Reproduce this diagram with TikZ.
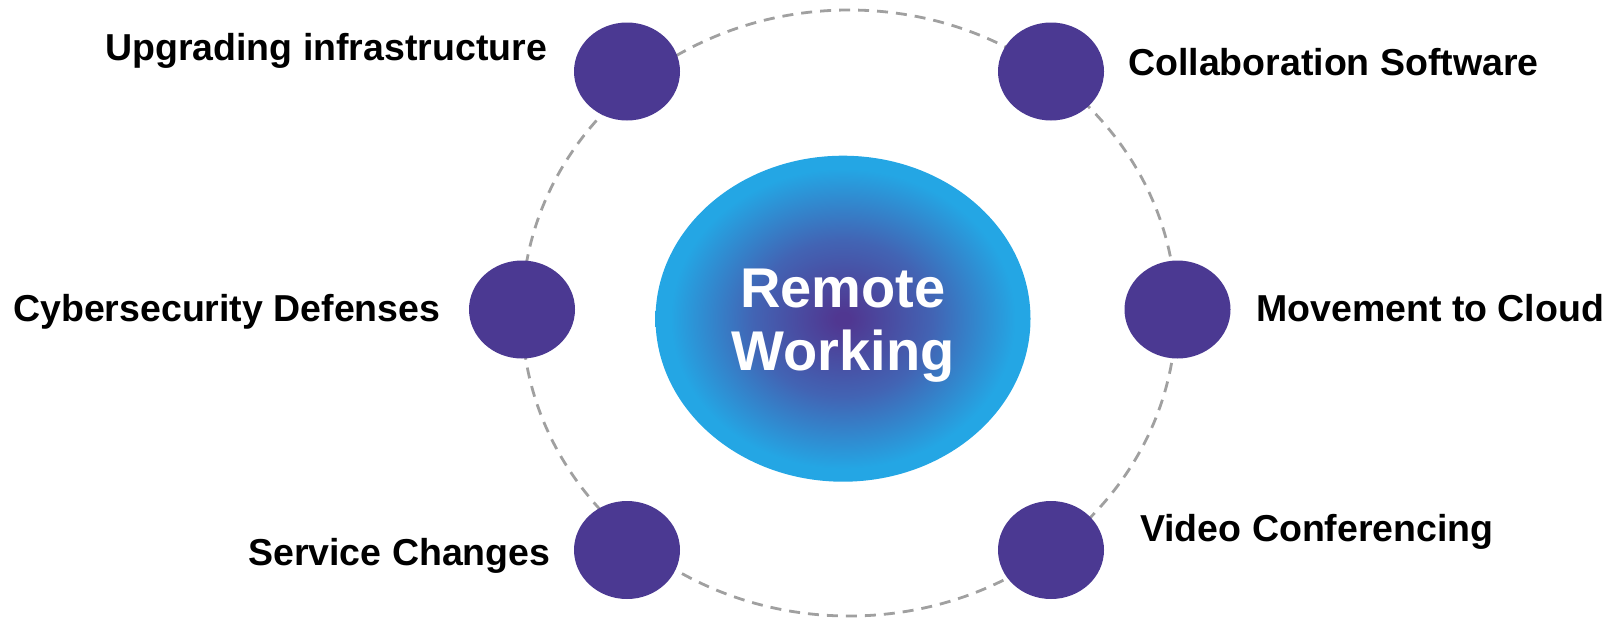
\documentclass[tikz,border=0pt]{standalone}
\usepackage{fontspec}
\setmainfont{Liberation Sans}
\usetikzlibrary{shapes.geometric}
\definecolor{dotpurple}{RGB}{75,57,146}
\definecolor{hubpurple}{RGB}{80,55,145}
\definecolor{hubmid}{RGB}{66,100,180}
\definecolor{hubblue}{RGB}{36,166,228}
\definecolor{ringgray}{RGB}{160,160,160}
\pgfdeclareradialshading{hubshade}{\pgfpoint{0bp}{0bp}}{color(0bp)=(hubpurple); color(1bp)=(hubpurple); color(12bp)=(hubmid); color(23bp)=(hubblue); color(50bp)=(hubblue)}
\begin{document}
\begin{tikzpicture}[x=1pt,y=-1pt,
  ring/.style={draw=ringgray, line width=2.8pt, dash pattern=on 11pt off 8pt},
  dot/.style={ellipse, fill=dotpurple, draw=none, minimum width=106pt, minimum height=98pt, inner sep=0pt},
  hub/.style={ellipse, shading=hubshade, draw=none, minimum width=375pt, minimum height=326pt, inner sep=0pt},
  hubtext/.style={text=white, font=\fontsize{56}{63.7}\selectfont\bfseries, align=center, inner sep=0pt},
  lbl/.style={font=\fontsize{37.5}{45}\selectfont\bfseries, text=black, inner sep=0pt, anchor=base west}]
\useasboundingbox (0,0) rectangle (1614,619);
% dashed ring
\coordinate (ringc) at (849,313);
\draw[ring] (ringc) ellipse [x radius=327pt, y radius=303pt];
% hub
\node[hub] (hub) at (843,318.7) {};
\node[hubtext] (hubtxt) at (843,325.8) {Remote\\Working};
% dots
\node[dot] (tl) at (627,71.5) {};
\node[dot] (tr) at (1051,71.5) {};
\node[dot] (ml) at (522,309.5) {};
\node[dot] (mr) at (1177.5,309.5) {};
\node[dot] (bl) at (627,550) {};
\node[dot] (br) at (1051,550) {};
% labels
\node[lbl] (ltl) at (105,60) {Upgrading infrastructure};
\node[lbl] (ltr) at (1128,75) {Collaboration Software};
\node[lbl] (lml) at (13,321.7) {Cybersecurity Defenses};
\node[lbl] (lmr) at (1256,321.7) {Movement to Cloud};
\node[lbl] (lbl) at (248,565) {Service Changes};
\node[lbl] (lbr) at (1140,541.7) {Video Conferencing};
\end{tikzpicture}
\end{document}
